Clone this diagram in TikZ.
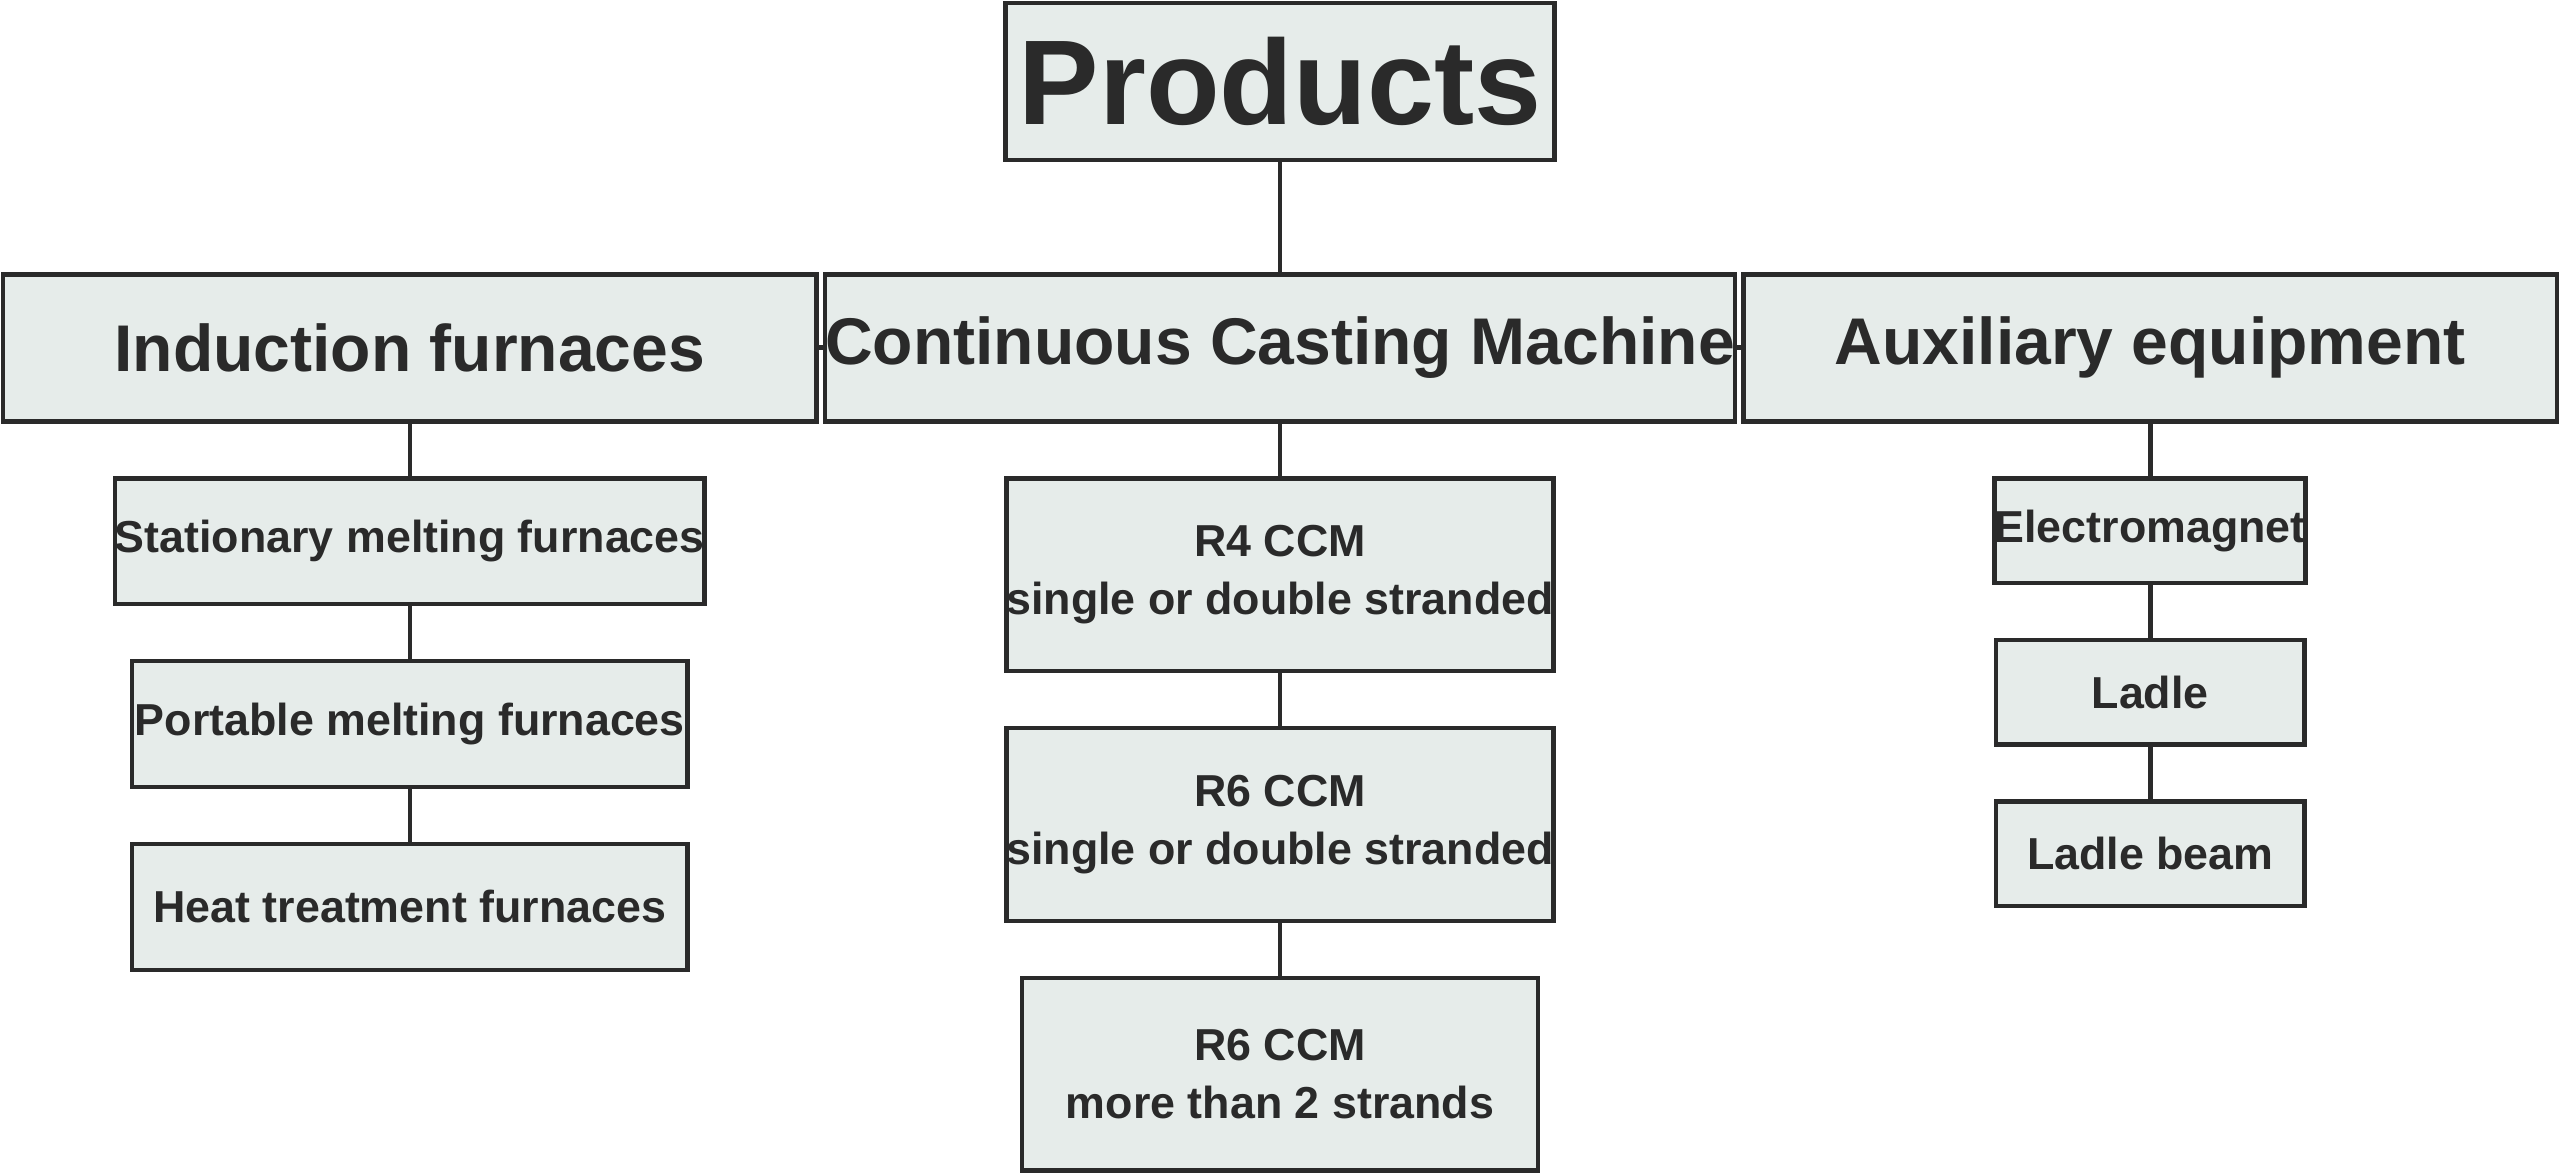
\documentclass[tikz,border=0pt]{standalone}
\usepackage{fontspec}
\setmainfont{Liberation Sans}
\definecolor{boxfill}{HTML}{E6ECEA}
\definecolor{boxline}{HTML}{2A2A2A}
\tikzset{
  box/.style={draw=boxline, fill=boxfill, line width=0.8pt, inner sep=0pt, align=center, text=boxline, font=\bfseries},
  bigbox/.style={box, minimum width=4.98cm, minimum height=0.90cm, font=\fontsize{11.5}{13}\selectfont\bfseries},
  leftbox/.style={box, minimum width=3.40cm, minimum height=0.77cm, font=\fontsize{7.8}{9}\selectfont\bfseries},
  midbox/.style={box, minimum width=3.16cm, minimum height=1.18cm, font=\fontsize{7.8}{10.2}\selectfont\bfseries},
  rightbox/.style={box, minimum width=1.89cm, minimum height=0.64cm, font=\fontsize{7.8}{9}\selectfont\bfseries},
  link/.style={draw=boxline, line width=0.8pt}
}
\begin{document}
\begin{tikzpicture}[x=0.01cm, y=-0.01cm]
\useasboundingbox (0,0) rectangle (1568,719);

\node[box, minimum width=3.36cm, minimum height=0.96cm, font=\fontsize{21}{24}\selectfont\bfseries] (products) at (784,50) {Products};

\node[bigbox] (induction) at (251,213) {Induction furnaces};
\node[bigbox] (ccm) at (784,213) {Continuous Casting Machine};
\node[bigbox] (aux) at (1317,213) {Auxiliary equipment};

\node[leftbox] (stationary) at (251,331.5) {Stationary melting furnaces};
\node[leftbox] (portable) at (251,443.5) {Portable melting furnaces};
\node[leftbox] (heat) at (251,555.5) {Heat treatment furnaces};

\node[midbox] (rfour) at (784,352) {R4 CCM\\single or double stranded};
\node[midbox] (rsix) at (784,505) {R6 CCM\\single or double stranded};
\node[midbox] (rsixmore) at (784,658) {R6 CCM\\more than 2 strands};

\node[rightbox] (magnet) at (1317,325) {Electromagnet};
\node[rightbox] (ladle) at (1317,424) {Ladle};
\node[rightbox] (beam) at (1317,523) {Ladle beam};

\draw[link] (products) -- (ccm);
\draw[link] (induction) -- (ccm);
\draw[link] (ccm) -- (aux);
\draw[link] (induction) -- (stationary);
\draw[link] (stationary) -- (portable);
\draw[link] (portable) -- (heat);
\draw[link] (ccm) -- (rfour);
\draw[link] (rfour) -- (rsix);
\draw[link] (rsix) -- (rsixmore);
\draw[link] (aux) -- (magnet);
\draw[link] (magnet) -- (ladle);
\draw[link] (ladle) -- (beam);
\end{tikzpicture}
\end{document}
